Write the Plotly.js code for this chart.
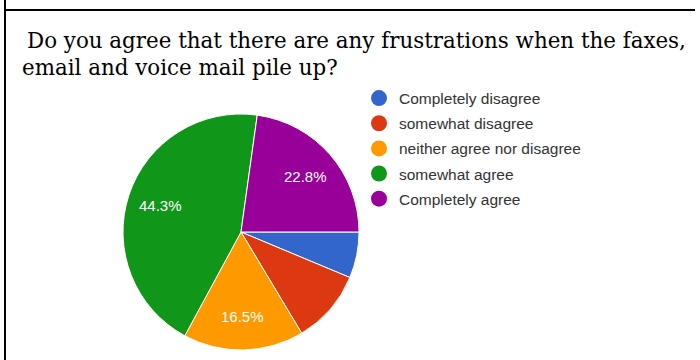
<!DOCTYPE html>
<html>
<head>
<meta charset="utf-8">
<script src="https://cdn.plot.ly/plotly-3.0.1.min.js"></script>
<style>
html,body{margin:0;padding:0;background:#fff;}
#chart{width:700px;height:360px;}
</style>
</head>
<body>
<div id="chart"></div>
<script>
// Data
const labels = ["Completely disagree", "somewhat disagree", "neither agree nor disagree", "somewhat agree", "Completely agree"];
const values = [6.3, 10.1, 16.5, 44.3, 22.8];
const sliceText = ["", "", "16.5%", "44.3%", "22.8%"];
const colors = ["#3366cc", "#dc3912", "#ff9900", "#109618", "#990099"];
const titleLines = ["Do you agree that there are any frustrations when the faxes,", "email and voice mail pile up?"];

const W = 700, H = 360;
const px = x => x / W;
const py = y => 1 - y / H;

// pie geometry (pixels)
const cx = 241, cy = 232, R = 118;
const labelFrac = 0.72;

const traces = [{
  type: "pie",
  labels: labels,
  values: values,
  textinfo: "none",
  sort: false,
  direction: "clockwise",
  rotation: 90,
  marker: {colors: colors, line: {color: "#ffffff", width: 1}},
  domain: {x: [px(cx - R), px(cx + R)], y: [py(cy + R), py(cy - R)]},
  showlegend: false,
  hoverinfo: "label+percent"
}];

labels.forEach((l, i) => {
  traces.push({
    type: "scatter",
    mode: "markers",
    x: [null], y: [null],
    name: l,
    legendgroup: "g" + i,
    marker: {color: colors[i], size: 16, symbol: "circle"},
    showlegend: true,
    hoverinfo: "skip"
  });
});

// slice labels at mid-angle of each slice, computed from the values
const total = values.reduce((a, b) => a + b, 0);
const annotations = [];
let cum = 0;
values.forEach((v, i) => {
  const mid = (cum + v / 2) / total * 2 * Math.PI; // clockwise from 3 o'clock
  cum += v;
  if (!sliceText[i]) return;
  const x = cx + labelFrac * R * Math.cos(mid);
  const y = cy + labelFrac * R * Math.sin(mid);
  annotations.push({
    xref: "paper", yref: "paper", x: px(x), y: py(y),
    xanchor: "center", yanchor: "middle", showarrow: false,
    text: sliceText[i],
    font: {family: "Liberation Sans, Arial, sans-serif", size: 15, color: "#ffffff"}
  });
});

const titleFont = {family: "DejaVu Serif, serif", size: 21.4, color: "#000000"};
annotations.push({
  xref: "paper", yref: "paper", x: px(25), y: py(40), xanchor: "left", yanchor: "middle",
  showarrow: false, text: titleLines[0], font: titleFont
});
annotations.push({
  xref: "paper", yref: "paper", x: px(20), y: py(67), xanchor: "left", yanchor: "middle",
  showarrow: false, text: titleLines[1], font: titleFont
});

const layout = {
  width: W, height: H,
  margin: {l: 0, r: 0, t: 0, b: 0},
  paper_bgcolor: "#ffffff",
  plot_bgcolor: "rgba(0,0,0,0)",
  xaxis: {visible: false, domain: [0, 1]},
  yaxis: {visible: false, domain: [0, 1]},
  annotations: annotations,
  legend: {
    x: px(359), xanchor: "left",
    y: py(81.5), yanchor: "top",
    font: {family: "Liberation Sans, Arial, sans-serif", size: 15.5, color: "#333333"},
    traceorder: "grouped",
    tracegroupgap: 2,
    bgcolor: "rgba(0,0,0,0)"
  },
  shapes: [
    {type: "line", xref: "paper", yref: "paper", x0: px(5), x1: px(5), y0: py(0), y1: py(360), line: {color: "#000000", width: 2}},
    {type: "line", xref: "paper", yref: "paper", x0: px(5), x1: px(695), y0: py(10), y1: py(10), line: {color: "#000000", width: 2}}
  ]
};

Plotly.newPlot("chart", traces, layout, {displayModeBar: false, staticPlot: true});
</script>
</body>
</html>
